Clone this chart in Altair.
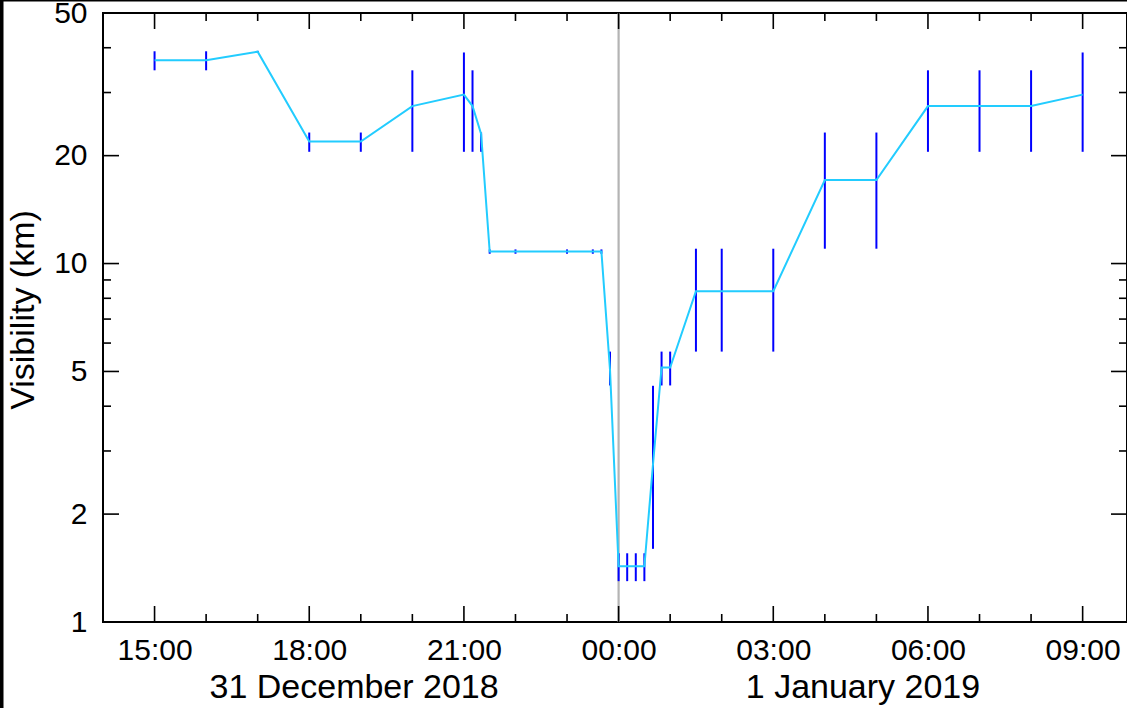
import altair as alt
import pandas as pd

# ---- data ----
times = ["2018-12-31 15:00", "2018-12-31 16:00", "2018-12-31 17:00", "2018-12-31 18:00",
         "2018-12-31 19:00", "2018-12-31 20:00", "2018-12-31 21:00", "2018-12-31 21:10",
         "2018-12-31 21:20", "2018-12-31 21:30", "2018-12-31 22:00", "2018-12-31 23:00",
         "2018-12-31 23:30", "2018-12-31 23:40", "2018-12-31 23:50", "2019-01-01 00:00",
         "2019-01-01 00:10", "2019-01-01 00:20", "2019-01-01 00:30", "2019-01-01 00:40",
         "2019-01-01 00:50", "2019-01-01 01:00", "2019-01-01 01:30", "2019-01-01 02:00",
         "2019-01-01 03:00", "2019-01-01 04:00", "2019-01-01 05:00", "2019-01-01 06:00",
         "2019-01-01 07:00", "2019-01-01 08:00", "2019-01-01 09:00"]
visibility = [36.9, 36.9, 39.0, 21.9, 21.9, 27.5, 29.6, 27.5, 23.0, 10.8, 10.8, 10.8, 10.8, 10.8,
              5.05, 1.43, 1.43, 1.43, 1.43, 2.75, 5.13, 5.13, 8.37, 8.37, 8.37, 17.1, 17.1,
              27.5, 27.5, 27.5, 29.6]
vis_low = [34.6, 34.6, 38.8, 20.5, 20.5, 20.5, 20.5, 20.5, 20.5, 10.65, 10.65, 10.65, 10.65, 10.65,
           4.57, 1.30, 1.30, 1.30, 1.30, 1.60, 4.57, 4.57, 5.68, 5.68, 5.68, 11.0, 11.0,
           20.5, 20.5, 20.5, 20.5]
vis_high = [39.1, 39.1, 39.2, 23.2, 23.2, 34.6, 38.8, 34.6, 23.2, 10.95, 10.95, 10.95, 10.95, 10.95,
            5.68, 1.555, 1.555, 1.555, 1.555, 4.56, 5.68, 5.68, 11.0, 11.0, 11.0, 23.2, 23.2,
            34.6, 34.6, 34.6, 38.8]

x_major_ticks = [15, 18, 21, 24, 27, 30, 33]          # hours after 31 Dec 00:00
x_minor_ticks = [16, 17, 19, 20, 22, 23, 25, 26, 28, 29, 31, 32]
y_major_ticks = [1, 2, 5, 10, 20, 50]
y_minor_ticks = [3, 4, 6, 7, 8, 9, 30, 40]
date_labels = ["31 December 2018", "1 January 2019"]
date_label_hours = [18.87, 28.74]
midnight_hour = [24]

# ---- build tables ----
base = pd.Timestamp("2018-12-31 00:00")
hours = [(pd.Timestamp(t) - base).total_seconds() / 3600 for t in times]
df = pd.DataFrame({"h": hours, "v": visibility, "lo": vis_low, "hi": vis_high})

W, H = 1024, 609
X_MIN, X_MAX = 14, 14 + W / 51.56
FONT = "Liberation Sans"
FS = 30
FS_BIG = 34

xs = alt.Scale(domain=[X_MIN, X_MAX], nice=False, zero=False)
ys = alt.Scale(type="log", domain=[1, 50], nice=False)

x_axis = alt.Axis(values=x_major_ticks, ticks=False, domain=False, grid=False, title=None,
                  labelExpr="(datum.value % 24 < 10 ? '0' : '') + (datum.value % 24) + ':00'",
                  labelFontSize=FS, labelFont=FONT, labelColor="black", labelPadding=13,
                  labelFlush=False, labelOverlap=False)
y_axis = alt.Axis(values=y_major_ticks, ticks=False, domain=False, grid=False,
                  title="Visibility (km)", labelExpr="datum.value",
                  labelFontSize=FS, labelFont=FONT, labelColor="black", labelPadding=16,
                  titleFont=FONT, titleFontSize=FS_BIG, titleFontWeight="normal", titleColor="black",
                  titleAngle=270, titleX=-80, titleY=H / 2 - 8, titleAlign="center",
                  titleBaseline="middle", labelFlush=False, labelOverlap=False)

midline = alt.Chart(pd.DataFrame({"h": midnight_hour})).mark_rule(
    color="#b4b4b4", strokeWidth=2.2).encode(
    x=alt.X("h:Q", scale=xs, axis=x_axis), y=alt.value(0), y2=alt.value(H))

bars = alt.Chart(df).mark_rule(color="#0000ff", strokeWidth=2).encode(
    x=alt.X("h:Q", scale=xs), y=alt.Y("lo:Q", scale=ys, axis=y_axis), y2="hi:Q")

line = alt.Chart(df).mark_line(color="#22ccff", strokeWidth=2).encode(
    x=alt.X("h:Q", scale=xs), y=alt.Y("v:Q", scale=ys))


def xticks(vals, length):
    d = pd.DataFrame({"h": vals})
    bottom = alt.Chart(d).mark_rule(color="black", strokeWidth=1.6).encode(
        x=alt.X("h:Q", scale=xs), y=alt.value(H), y2=alt.value(H - length))
    top = alt.Chart(d).mark_rule(color="black", strokeWidth=1.6).encode(
        x=alt.X("h:Q", scale=xs), y=alt.value(0), y2=alt.value(length))
    return [bottom, top]


def yticks(vals, length):
    d = pd.DataFrame({"v": vals})
    left = alt.Chart(d).mark_rule(color="black", strokeWidth=1.6).encode(
        y=alt.Y("v:Q", scale=ys), x=alt.value(0), x2=alt.value(length))
    right = alt.Chart(d).mark_rule(color="black", strokeWidth=1.6).encode(
        y=alt.Y("v:Q", scale=ys), x=alt.value(W), x2=alt.value(W - length))
    return [left, right]


dates = alt.Chart(pd.DataFrame({"h": date_label_hours, "label": date_labels})).mark_text(
    font=FONT, fontSize=FS_BIG, color="black", baseline="middle", align="center").encode(
    x=alt.X("h:Q", scale=xs), y=alt.value(H + 66), text="label:N")

# thin dark frame at the left and top edges of the picture
edge_left = alt.Chart(pd.DataFrame({"h": [0]})).mark_rule(color="black", strokeWidth=3.5).encode(
    x=alt.value(-101.25), y=alt.value(-13), y2=alt.value(H + 86))
edge_top = alt.Chart(pd.DataFrame({"h": [0]})).mark_rule(color="black", strokeWidth=1.5).encode(
    x=alt.value(-103), x2=alt.value(W), y=alt.value(-12.25))

layers = [midline, bars, line] + xticks(x_major_ticks, 16) + xticks(x_minor_ticks, 8) \
    + yticks(y_major_ticks, 16) + yticks(y_minor_ticks, 8) + [dates, edge_left, edge_top]

chart = alt.layer(*layers).properties(
    width=W, height=H,
    padding={"left": 103, "top": 13, "right": 0, "bottom": 86},
    autosize=alt.AutoSizeParams(type="none"),
    background="white",
).configure_view(stroke="black", strokeWidth=2)

chart.save("out.html", embed_options={"renderer": "svg", "actions": False})
